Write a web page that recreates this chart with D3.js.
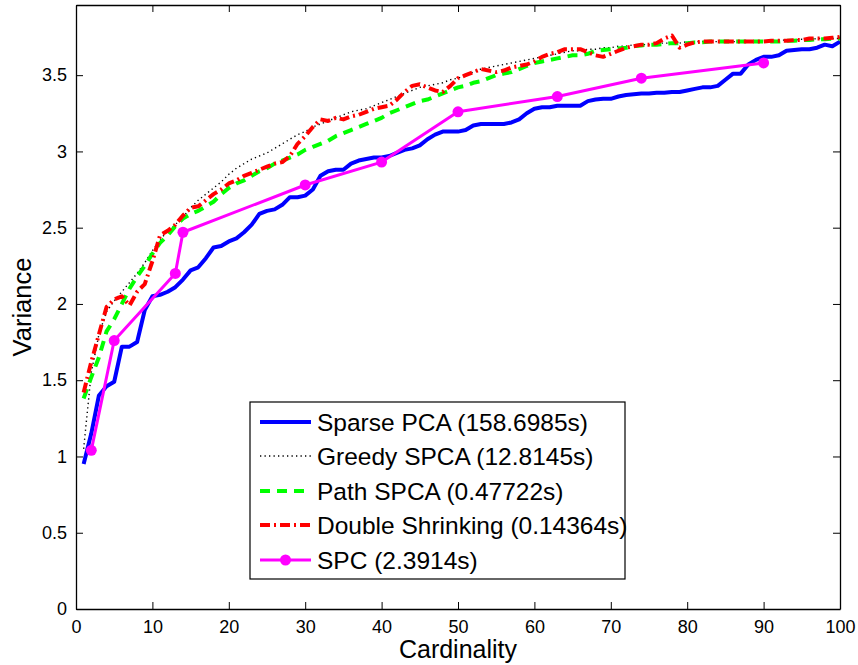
<!DOCTYPE html>
<html><head><meta charset="utf-8">
<script src="https://cdn.jsdelivr.net/npm/d3@7"></script>
<style>body{margin:0;background:#fff}svg{display:block}text{font-family:"Liberation Sans",Arial,Helvetica,sans-serif;fill:#000}</style>
</head><body><svg id="c" width="858" height="665"></svg>
<script>
const xTicks=[0,10,20,30,40,50,60,70,80,90,100];
const yTicks=[0,0.5,1,1.5,2,2.5,3,3.5];
const yTickLabels=["0","0.5","1","1.5","2","2.5","3","3.5"];
const cardinality=d3.range(1,101);
const sparsePCA=[0.95,1.15,1.40,1.46,1.49,1.72,1.72,1.75,1.96,2.05,2.06,2.08,2.11,2.16,2.22,2.24,2.30,2.37,2.38,2.41,2.43,2.47,2.52,2.59,2.61,2.62,2.65,2.70,2.70,2.71,2.75,2.84,2.87,2.88,2.88,2.92,2.94,2.95,2.96,2.96,2.97,2.99,3.01,3.02,3.04,3.08,3.11,3.13,3.13,3.13,3.14,3.17,3.18,3.18,3.18,3.18,3.19,3.21,3.25,3.28,3.29,3.29,3.30,3.30,3.30,3.30,3.33,3.34,3.345,3.345,3.36,3.37,3.375,3.38,3.38,3.385,3.385,3.39,3.39,3.40,3.41,3.42,3.42,3.43,3.47,3.51,3.51,3.57,3.60,3.62,3.62,3.63,3.66,3.665,3.67,3.67,3.68,3.70,3.69,3.72];
const greedySPCA=[1.05,1.55,1.80,1.95,2.02,2.08,2.14,2.20,2.27,2.35,2.42,2.48,2.52,2.57,2.63,2.68,2.72,2.76,2.80,2.85,2.89,2.92,2.95,2.97,2.99,3.02,3.05,3.08,3.11,3.13,3.16,3.18,3.20,3.22,3.24,3.26,3.27,3.28,3.30,3.32,3.34,3.36,3.38,3.40,3.42,3.43,3.44,3.45,3.47,3.48,3.50,3.52,3.54,3.55,3.56,3.57,3.58,3.59,3.60,3.61,3.62,3.63,3.64,3.65,3.66,3.66,3.67,3.67,3.68,3.68,3.69,3.69,3.70,3.70,3.70,3.71,3.71,3.71,3.71,3.72,3.72,3.72,3.72,3.72,3.72,3.72,3.72,3.72,3.725,3.725,3.725,3.73,3.73,3.73,3.735,3.735,3.74,3.74,3.74,3.74];
const pathSPCA=[1.38,1.52,1.65,1.82,1.90,2.00,2.10,2.18,2.25,2.33,2.40,2.45,2.51,2.56,2.59,2.61,2.64,2.67,2.72,2.76,2.79,2.81,2.84,2.87,2.89,2.92,2.94,2.96,2.98,3.01,3.03,3.05,3.07,3.10,3.12,3.14,3.16,3.18,3.20,3.22,3.25,3.27,3.29,3.31,3.33,3.34,3.36,3.38,3.40,3.42,3.43,3.45,3.46,3.48,3.50,3.51,3.52,3.54,3.56,3.58,3.59,3.60,3.61,3.62,3.63,3.63,3.64,3.66,3.665,3.67,3.675,3.68,3.69,3.695,3.70,3.70,3.705,3.71,3.71,3.71,3.715,3.715,3.72,3.72,3.72,3.72,3.72,3.72,3.72,3.72,3.72,3.72,3.725,3.725,3.73,3.73,3.735,3.735,3.74,3.74];
const doubleShrinking=[1.42,1.62,1.80,1.98,2.03,2.05,1.99,2.08,2.13,2.28,2.45,2.48,2.52,2.58,2.63,2.64,2.68,2.72,2.75,2.79,2.81,2.84,2.86,2.88,2.90,2.92,2.93,2.97,3.05,3.10,3.16,3.21,3.20,3.22,3.21,3.23,3.24,3.26,3.28,3.29,3.30,3.34,3.39,3.43,3.44,3.42,3.40,3.39,3.43,3.48,3.50,3.52,3.54,3.53,3.52,3.53,3.55,3.56,3.57,3.59,3.62,3.64,3.65,3.67,3.67,3.67,3.65,3.63,3.62,3.64,3.66,3.68,3.69,3.70,3.70,3.71,3.74,3.76,3.68,3.70,3.715,3.72,3.72,3.72,3.72,3.72,3.72,3.72,3.72,3.72,3.725,3.725,3.725,3.73,3.73,3.74,3.74,3.74,3.745,3.75];
const spcCard=[2,5,13,14,30,40,50,63,74,90];
const spcVals=[1.04,1.76,2.20,2.47,2.78,2.93,3.26,3.36,3.48,3.58];
const seriesNames=["Sparse PCA (158.6985s)","Greedy SPCA (12.8145s)","Path SPCA (0.47722s)","Double Shrinking (0.14364s)","SPC (2.3914s)"];

const svg=d3.select("#c");
const L=76,R=840,T=5,B=609;
const x=d3.scaleLinear().domain([0,100]).range([L,R]);
const y=d3.scaleLinear().domain([0,3.96]).range([B,T]);

const styles=[
 {color:"#0000ff",w:4,dash:null},
 {color:"#000000",w:1.4,dash:"1.3,3.2"},
 {color:"#00ff00",w:4,dash:"10,7"},
 {color:"#ff0000",w:4,dash:"10,4,2,4"},
 {color:"#ff00ff",w:3,dash:null,marker:true}
];
const data=[
 cardinality.map((c,i)=>[c,sparsePCA[i]]),
 cardinality.map((c,i)=>[c,greedySPCA[i]]),
 cardinality.map((c,i)=>[c,pathSPCA[i]]),
 cardinality.map((c,i)=>[c,doubleShrinking[i]]),
 spcCard.map((c,i)=>[c,spcVals[i]])
];
const line=d3.line().x(d=>x(d[0])).y(d=>y(d[1]));
const plot=svg.append("g");
data.forEach((d,i)=>{
  const s=styles[i];
  plot.append("path").attr("d",line(d)).attr("fill","none").attr("stroke",s.color)
   .attr("stroke-width",s.w).attr("stroke-dasharray",s.dash).attr("stroke-linejoin","round");
  if(s.marker){
    plot.selectAll(null).data(d).enter().append("circle").attr("cx",p=>x(p[0])).attr("cy",p=>y(p[1])).attr("r",5.5).attr("fill",s.color);
  }
});

// axes with inward ticks, box
const ax=svg.append("g");
const gx=ax.append("g").attr("transform",`translate(0,${B})`).call(d3.axisBottom(x).tickValues(xTicks).tickSizeInner(-7).tickSizeOuter(0).tickPadding(11));
const gxt=ax.append("g").attr("transform",`translate(0,${T})`).call(d3.axisTop(x).tickValues(xTicks).tickSizeInner(-7).tickSizeOuter(0).tickFormat(""));
const gy=ax.append("g").attr("transform",`translate(${L},0)`).call(d3.axisLeft(y).tickValues(yTicks).tickSizeInner(-7).tickSizeOuter(0).tickPadding(9).tickFormat((d,i)=>yTickLabels[i]));
const gyr=ax.append("g").attr("transform",`translate(${R},0)`).call(d3.axisRight(y).tickValues(yTicks).tickSizeInner(-7).tickSizeOuter(0).tickFormat(""));
ax.selectAll(".domain").attr("stroke","#000").attr("stroke-width",1.3);
ax.selectAll(".tick line").attr("stroke","#000").attr("stroke-width",1);
ax.selectAll(".tick text").style("font-size","18px").attr("fill","#000");
gx.selectAll(".tick text").attr("dy","0.71em");

svg.append("text").attr("x",(L+R)/2).attr("y",658).attr("text-anchor","middle").style("font-size","25px").text("Cardinality");
svg.append("text").attr("transform",`translate(31,${(T+B)/2}) rotate(-90)`).attr("text-anchor","middle").style("font-size","25.5px").text("Variance");

// legend
const lg=svg.append("g");
lg.append("rect").attr("x",250).attr("y",402).attr("width",375).attr("height",177).attr("fill","#fff").attr("stroke","#000").attr("stroke-width",1.2);
const rowY=[422,456,491,525,560];
seriesNames.forEach((n,i)=>{
  const s=styles[i];
  lg.append("line").attr("x1",260).attr("x2",311).attr("y1",rowY[i]).attr("y2",rowY[i]).attr("stroke",s.color).attr("stroke-width",s.w).attr("stroke-dasharray",s.dash);
  if(s.marker) lg.append("circle").attr("cx",285.5).attr("cy",rowY[i]).attr("r",5.5).attr("fill",s.color);
  lg.append("text").attr("x",317).attr("y",rowY[i]).attr("dy","0.36em").style("font-size","24.5px").text(n);
});
</script></body></html>
